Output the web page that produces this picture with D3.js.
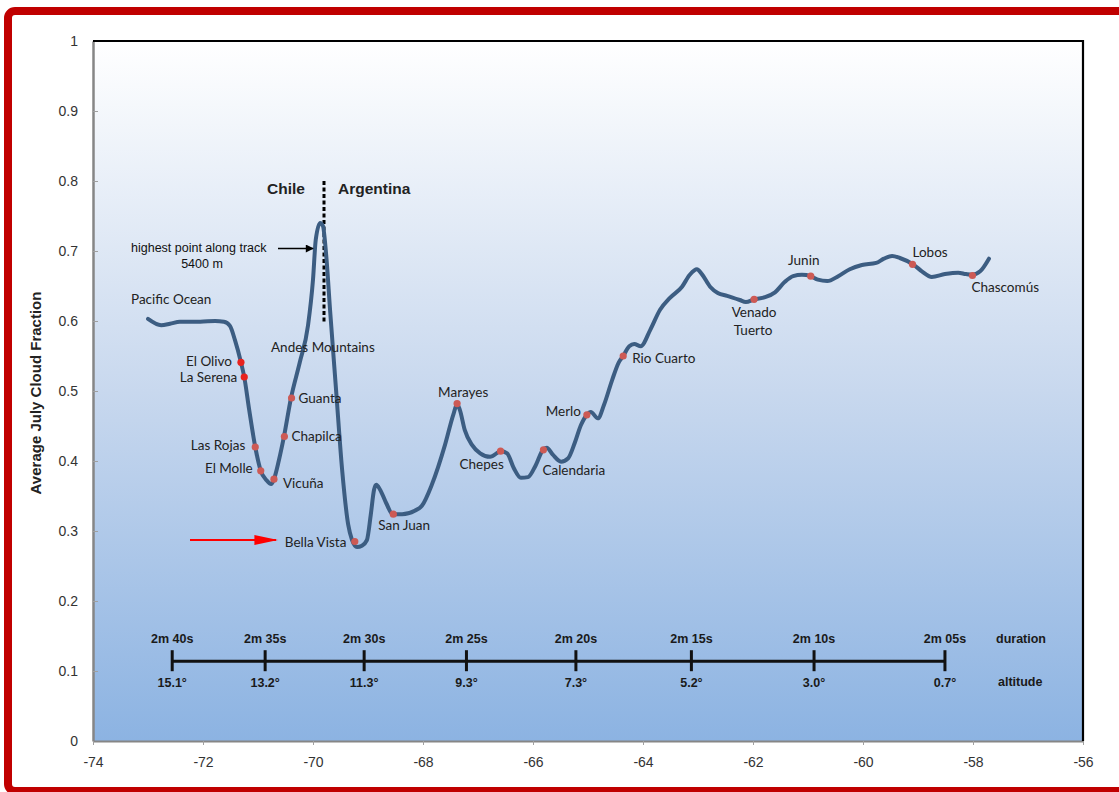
<!DOCTYPE html>
<html>
<head>
<meta charset="utf-8">
<script src="https://cdn.jsdelivr.net/npm/d3@7"></script>
<style>
html,body{margin:0;padding:0;background:#fff;}
svg{display:block;}
</style>
</head>
<body>
<svg id="chart" width="1119" height="792"></svg>
<script>
// ---------- DATA ----------
const trackLon = [-73.00,-72.76,-72.60,-72.42,-72.05,-71.78,-71.62,-71.51,-71.42,-71.31,-71.25,-71.16,-71.05,-70.95,-70.85,-70.76,-70.71,-70.62,-70.53,-70.40,-70.24,-70.09,-70.00,-69.95,-69.87,-69.82,-69.76,-69.69,-69.58,-69.47,-69.36,-69.29,-69.20,-69.11,-69.02,-68.95,-68.89,-68.85,-68.78,-68.67,-68.55,-68.38,-68.15,-68.02,-67.84,-67.60,-67.45,-67.38,-67.33,-67.24,-67.11,-66.96,-66.78,-66.58,-66.47,-66.35,-66.22,-66.09,-65.95,-65.82,-65.75,-65.64,-65.49,-65.36,-65.24,-65.13,-65.02,-64.95,-64.82,-64.71,-64.56,-64.44,-64.36,-64.25,-64.16,-64.04,-63.87,-63.69,-63.51,-63.29,-63.15,-63.02,-62.93,-62.78,-62.64,-62.47,-62.24,-62.13,-61.98,-61.78,-61.60,-61.42,-61.27,-61.11,-60.95,-60.82,-60.65,-60.45,-60.24,-60.02,-59.76,-59.62,-59.47,-59.33,-59.09,-58.93,-58.75,-58.51,-58.27,-58.13,-58.02,-57.87,-57.71];
const trackCloud = [0.603,0.594,0.596,0.599,0.599,0.600,0.599,0.593,0.573,0.541,0.520,0.473,0.420,0.386,0.373,0.367,0.374,0.401,0.434,0.490,0.541,0.594,0.659,0.716,0.740,0.736,0.694,0.616,0.501,0.387,0.309,0.287,0.277,0.279,0.287,0.323,0.359,0.366,0.359,0.340,0.324,0.324,0.329,0.336,0.366,0.423,0.466,0.481,0.473,0.444,0.423,0.411,0.406,0.414,0.411,0.390,0.376,0.377,0.394,0.416,0.419,0.409,0.399,0.404,0.426,0.451,0.466,0.470,0.461,0.480,0.516,0.541,0.550,0.564,0.567,0.564,0.587,0.616,0.633,0.649,0.666,0.674,0.667,0.649,0.640,0.636,0.630,0.627,0.631,0.634,0.641,0.656,0.664,0.666,0.664,0.659,0.657,0.664,0.674,0.680,0.683,0.689,0.693,0.690,0.681,0.671,0.663,0.667,0.669,0.667,0.666,0.671,0.689];

const siteNames = ["El Olivo","La Serena","Las Rojas","El Molle","Vicuña","Chapilca","Guanta","Bella Vista","San Juan","Marayes","Chepes","Calendaria","Merlo","Rio Cuarto","Venado Tuerto","Junin","Lobos","Chascomús"];
const siteLon   = [-71.31,-71.25,-71.05,-70.95,-70.71,-70.52,-70.39,-69.24,-68.54,-67.38,-66.59,-65.81,-65.02,-64.36,-61.98,-60.95,-59.10,-58.01];
const siteCloud = [0.541,0.520,0.420,0.386,0.374,0.435,0.490,0.285,0.324,0.482,0.414,0.416,0.466,0.550,0.631,0.664,0.681,0.665];

const xTicks = [-74,-72,-70,-68,-66,-64,-62,-60,-58,-56];
const yTicks = [0,0.1,0.2,0.3,0.4,0.5,0.6,0.7,0.8,0.9,1];
const yTickLabels = ["0","0.1","0.2","0.3","0.4","0.5","0.6","0.7","0.8","0.9","1"];

const timelineLon = [-72.56,-70.87,-69.07,-67.21,-65.22,-63.12,-60.89,-58.51];
const durationLabels = ["2m 40s","2m 35s","2m 30s","2m 25s","2m 20s","2m 15s","2m 10s","2m 05s"];
const altitudeLabels = ["15.1°","13.2°","11.3°","9.3°","7.3°","5.2°","3.0°","0.7°"];
const timelineLevel = 0.114;

const borderLon = -69.80;
const borderRange = [0.80, 0.599];

// ---------- LAYOUT / STYLE ----------
const svg = d3.select("#chart");
const L = 93, R = 1083, T = 41, B = 741;
const x = d3.scaleLinear().domain([-74,-56]).range([L,R]);
const y = d3.scaleLinear().domain([0,1]).range([B,T]);

// red frame
svg.append("rect").attr("x",8).attr("y",11).attr("width",1200).attr("height",780)
  .attr("rx",7).attr("fill","none").attr("stroke","#c00000").attr("stroke-width",8);

// gradient background
const defs = svg.append("defs");
const g = defs.append("linearGradient").attr("id","bg").attr("x1",0).attr("y1",0).attr("x2",0).attr("y2",1);
g.append("stop").attr("offset","0%").attr("stop-color","#ffffff");
g.append("stop").attr("offset","50%").attr("stop-color","#c8d8ee");
g.append("stop").attr("offset","100%").attr("stop-color","#8cb3e2");
const mk = defs.append("marker").attr("id","arrBlack").attr("viewBox","0 0 10 10").attr("refX",9).attr("refY",5)
  .attr("orient","auto").attr("markerUnits","userSpaceOnUse")
  .attr("markerWidth",10).attr("markerHeight",8);
mk.append("path").attr("d","M0,0 L10,5 L0,10 Z").attr("fill","#000");
const mkr = defs.append("marker").attr("id","arrRed").attr("viewBox","0 0 10 10").attr("refX",9).attr("refY",5)
  .attr("markerUnits","userSpaceOnUse").attr("markerWidth",24).attr("markerHeight",10).attr("orient","auto").attr("preserveAspectRatio","none");
mkr.append("path").attr("d","M0,0 L10,5 L0,10 Z").attr("fill","#ff0000");

svg.append("rect").attr("x",L).attr("y",T).attr("width",R-L).attr("height",B-T).attr("fill","url(#bg)");

// axes
const yAxis = d3.axisLeft(y).tickValues(yTicks).tickFormat((d,i)=>yTickLabels[i]).tickSizeInner(-5).tickSizeOuter(0).tickPadding(15);
const ya = svg.append("g").attr("transform",`translate(${L},0)`).call(yAxis);
ya.select(".domain").attr("stroke","#868686").attr("stroke-width",2.5);
ya.selectAll(".tick line").attr("stroke","#a0a0a0").attr("stroke-width",1);
ya.selectAll("text").attr("font-family","Liberation Sans, Arial, sans-serif").attr("font-size",14).attr("fill","#333");

const xAxis = d3.axisBottom(x).tickValues(xTicks).tickFormat(d=>String(d)).tickSizeInner(4).tickSizeOuter(0).tickPadding(12);
const xa = svg.append("g").attr("transform",`translate(0,${B})`).call(xAxis);
xa.select(".domain").attr("stroke","#868686").attr("stroke-width",2);
xa.selectAll(".tick line").attr("stroke","#a0a0a0").attr("stroke-width",1);
xa.selectAll("text").attr("font-family","Liberation Sans, Arial, sans-serif").attr("font-size",14).attr("fill","#333");

// top & right frame
svg.append("path").attr("d",`M${L},${T}H${R}V${B}`).attr("fill","none").attr("stroke","#000").attr("stroke-width",2.2);

// y title
svg.append("text").attr("transform",`translate(41,${(T+B)/2+2}) rotate(-90)`).attr("text-anchor","middle")
  .attr("font-family","Liberation Sans, Arial, sans-serif").attr("font-size",15).attr("font-weight","bold").attr("fill","#222")
  .text("Average July Cloud Fraction");

// timeline
const tl = svg.append("g").attr("font-family","Liberation Sans, Arial, sans-serif").attr("font-size",12.5).attr("font-weight","bold").attr("fill","#1a1a1a");
const ty = y(timelineLevel);
tl.append("line").attr("x1",x(timelineLon[0])).attr("x2",x(timelineLon[timelineLon.length-1])).attr("y1",ty).attr("y2",ty).attr("stroke","#111").attr("stroke-width",3);
tl.selectAll("line.tk").data(timelineLon).join("line").attr("class","tk")
  .attr("x1",d=>x(d)).attr("x2",d=>x(d)).attr("y1",ty-11).attr("y2",ty+10).attr("stroke","#111").attr("stroke-width",3);
tl.selectAll("text.dur").data(timelineLon).join("text").attr("class","dur").attr("x",d=>x(d)).attr("y",ty-18).attr("text-anchor","middle").text((d,i)=>durationLabels[i]);
tl.selectAll("text.alt").data(timelineLon).join("text").attr("class","alt").attr("x",d=>x(d)).attr("y",ty+26).attr("text-anchor","middle").text((d,i)=>altitudeLabels[i]);
tl.append("text").attr("x",996).attr("y",ty-18).text("duration");
tl.append("text").attr("x",998).attr("y",ty+25).text("altitude");

// border dashed line
svg.append("line").attr("x1",x(borderLon)).attr("x2",x(borderLon)).attr("y1",y(borderRange[0])).attr("y2",y(borderRange[1]))
  .attr("stroke","#000").attr("stroke-width",3).attr("stroke-dasharray","4,2.5");

// track line
const pts = trackLon.map((d,i)=>[d,trackCloud[i]]);
const line = d3.line().x(d=>x(d[0])).y(d=>y(d[1])).curve(d3.curveMonotoneX);
svg.append("path").attr("d",line(pts)).attr("fill","none").attr("stroke","#3c5d82").attr("stroke-width",4)
  .attr("stroke-linejoin","round").attr("stroke-linecap","round");

// dots
svg.selectAll("circle.site").data(siteLon).join("circle").attr("class","site")
  .attr("cx",d=>x(d)).attr("cy",(d,i)=>y(siteCloud[i])).attr("r",3.6)
  .attr("fill",(d,i)=> i<2 ? "#e8231f" : "#cd5a55");

// site labels (layout: anchor, dx, dy in px)
const labelLayout = {
  "El Olivo":["end",-9,4], "La Serena":["end",-7,5], "Las Rojas":["end",-10,3], "El Molle":["end",-8,2],
  "Vicuña":["start",9,9], "Chapilca":["start",7,4], "Guanta":["start",7,5], "Bella Vista":["start",-70,5],
  "San Juan":["start",-15,16], "Marayes":["start",-19,-7], "Chepes":["start",-41,18], "Calendaria":["start",-1,25],
  "Merlo":["end",-6,1], "Rio Cuarto":["start",9,7], "Junin":["middle",-7,-11], "Lobos":["start",0,-7],
  "Chascomús":["start",-1,16]
};
const lab = svg.append("g").attr("font-family","Lato, 'Open Sans', sans-serif").attr("font-size",13.5).attr("fill","#222");
siteNames.forEach((n,i)=>{
  if(n==="Venado Tuerto"){
    const t = lab.append("text").attr("text-anchor","middle");
    t.append("tspan").attr("x",x(siteLon[i])).attr("y",y(siteCloud[i])+18).text("Venado");
    t.append("tspan").attr("x",x(siteLon[i])-1).attr("y",y(siteCloud[i])+36).text("Tuerto");
    return;
  }
  const [a,dx,dy] = labelLayout[n];
  lab.append("text").attr("x",x(siteLon[i])+dx).attr("y",y(siteCloud[i])+dy).attr("text-anchor",a).text(n);
});
lab.append("text").attr("x",131).attr("y",304).text("Pacific Ocean");
lab.append("text").attr("x",271).attr("y",352).text("Andes Mountains");

// country labels
const cl = svg.append("g").attr("font-family","Liberation Sans, Arial, sans-serif").attr("font-size",15.5).attr("font-weight","bold").attr("fill","#222");
cl.append("text").attr("x",305).attr("y",194).attr("text-anchor","end").text("Chile");
cl.append("text").attr("x",338).attr("y",194).text("Argentina");

// highest point annotation
const hp = svg.append("g").attr("font-family","Liberation Sans, Arial, sans-serif").attr("font-size",12.5).attr("fill","#111");
hp.append("text").attr("x",131).attr("y",252).text("highest point along track");
hp.append("text").attr("x",202).attr("y",268).attr("text-anchor","middle").text("5400 m");
svg.append("line").attr("x1",278).attr("x2",313).attr("y1",248.5).attr("y2",248.5).attr("stroke","#000").attr("stroke-width",1.5).attr("marker-end","url(#arrBlack)");

// red arrow
svg.append("line").attr("x1",190).attr("x2",276).attr("y1",540).attr("y2",540).attr("stroke","#ff0000").attr("stroke-width",2).attr("marker-end","url(#arrRed)");
</script>
</body>
</html>
